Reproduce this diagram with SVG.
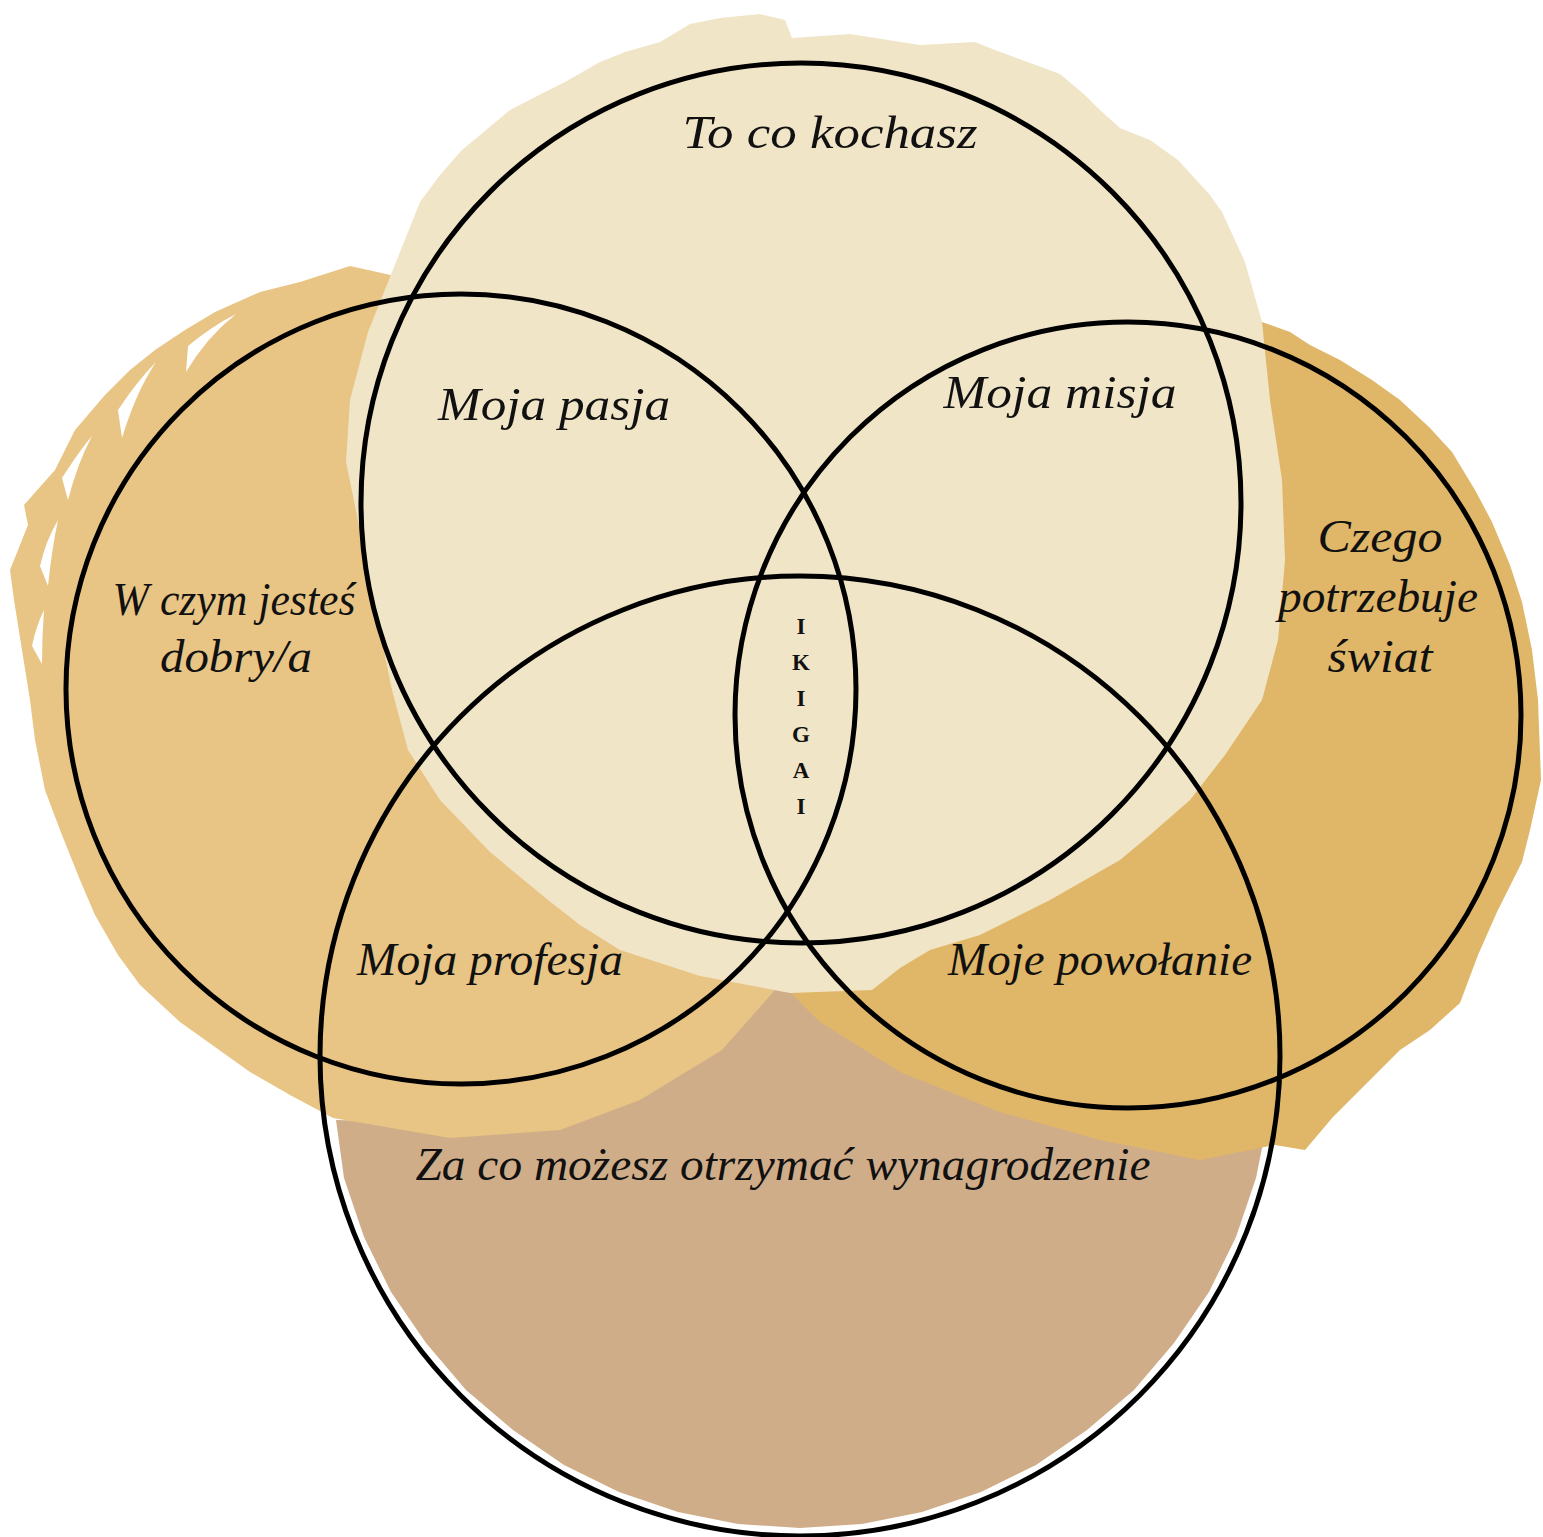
<svg xmlns="http://www.w3.org/2000/svg" width="1543" height="1537" viewBox="0 0 1543 1537">
<style>
.ring{fill:none;stroke:#000;stroke-width:5}
.lbl{font-family:"Liberation Serif","DejaVu Serif",serif;font-style:italic;font-size:46px;fill:#111;text-anchor:middle}
.ik{font-family:"Liberation Serif","DejaVu Serif",serif;font-weight:bold;font-size:23px;fill:#111;text-anchor:middle}
.w{fill:#fff}
</style>
<rect width="1543" height="1537" fill="#fff"/>
<g id="paint">
<path id="blob-bottom" fill="#D0AD89" d="M336,1120 L560,1125 L700,1060 L760,990 L800,985 L860,1040 L1000,1100 L1150,1130 L1262,1110 L1272,1056 L1268,1118 L1256,1178 L1236,1237 L1209,1292 L1174,1343 L1134,1390 L1087,1430 L1036,1465 L981,1492 L922,1512 L862,1524 L800,1528 L738,1524 L678,1512 L619,1492 L564,1465 L513,1430 L466,1390 L426,1343 L391,1292 L364,1237 L344,1178 Z"/>
<path id="blob-left" fill="#E8C485" d="M300,282 L350,266 L395,276 L430,284 L520,300 L600,360 L680,450 L740,560 L770,700 L780,850 L775,990 L722,1050 L640,1100 L560,1130 L450,1138 L333,1118 L290,1095 L250,1072 L180,1022 L140,985 L118,955 L95,915 L80,880 L60,830 L45,790 L35,740 L30,700 L22,650 L14,600 L10,570 L28,525 L24,505 L55,470 L75,430 L105,395 L130,370 L155,350 L185,330 L215,312 L260,292 Z"/>
<path id="blob-right" fill="#E0B768" d="M1248,318 L1262,322 L1290,332 L1310,345 L1340,360 L1372,380 L1400,400 L1430,428 L1452,452 L1475,490 L1492,522 L1510,565 L1522,602 L1532,650 L1538,700 L1541,780 L1530,830 L1522,862 L1497,912 L1478,955 L1460,1003 L1430,1030 L1400,1050 L1365,1085 L1333,1117 L1305,1150 L1275,1145 L1200,1160 L1100,1140 L1000,1112 L900,1072 L820,1022 L790,992 L860,900 L1000,800 L1100,600 L1200,400 Z"/>
<path id="blob-top" fill="#F1E5C8" d="M690,24 L720,18 L760,14 L785,20 L792,38 L850,34 L920,45 L975,42 L995,50 L1060,74 L1085,95 L1100,110 L1120,128 L1150,140 L1178,160 L1210,195 L1222,212 L1245,262 L1262,322 L1270,400 L1282,480 L1285,560 L1278,640 L1262,700 L1225,755 L1190,800 L1150,835 L1120,860 L1050,900 L980,935 L930,950 L900,968 L872,990 L790,993 L700,976 L620,950 L580,925 L548,900 L490,852 L440,800 L408,750 L392,690 L378,622 L362,540 L346,462 L350,400 L368,332 L392,272 L420,202 L440,175 L462,150 L510,110 L545,92 L565,82 L600,62 L625,52 L660,42 Z"/>
<path class="w" d="M62,478 Q80,450 92,436 Q78,462 68,500 Z"/>
<path class="w" d="M118,410 Q138,380 156,362 Q136,392 122,438 Z"/>
<path class="w" d="M188,346 Q212,326 236,314 Q206,338 186,372 Z"/>
<path class="w" d="M40,566 Q46,540 58,520 Q52,548 48,586 Z"/>
<path class="w" d="M32,646 Q36,626 44,610 Q42,636 42,664 Z"/>
<path class="w" d="M1244,1330 Q1250,1300 1258,1280 Q1256,1310 1250,1350 Z"/>
<path class="w" d="M1206,1412 Q1220,1390 1234,1372 Q1226,1396 1214,1422 Z"/>
<path class="w" d="M1502,944 Q1510,920 1522,900 Q1516,928 1510,962 Z"/>
<path class="w" d="M1420,1042 Q1432,1028 1446,1016 Q1438,1034 1430,1052 Z"/>
</g>
<g id="connectors">
<circle id="ring-love" class="ring" cx="801" cy="503" r="440"/>
<circle id="ring-good" class="ring" cx="461" cy="689" r="395"/>
<circle id="ring-world" class="ring" cx="1128" cy="715" r="393"/>
<circle id="ring-paid" class="ring" cx="800" cy="1056" r="480"/>
</g>
<g id="node-love"><text class="lbl" x="830" y="148" textLength="295" lengthAdjust="spacingAndGlyphs">To co kochasz</text></g>
<g id="node-pasja"><text class="lbl" x="554" y="420" textLength="232" lengthAdjust="spacingAndGlyphs">Moja pasja</text></g>
<g id="node-misja"><text class="lbl" x="1060" y="408" textLength="233" lengthAdjust="spacingAndGlyphs">Moja misja</text></g>
<g id="node-good">
<text class="lbl" x="234" y="615" textLength="243" lengthAdjust="spacingAndGlyphs">W czym jesteś</text>
<text class="lbl" x="236" y="672" textLength="152" lengthAdjust="spacingAndGlyphs">dobry/a</text>
</g>
<g id="node-world">
<text class="lbl" x="1380" y="552" textLength="125" lengthAdjust="spacingAndGlyphs">Czego</text>
<text class="lbl" x="1378" y="612" textLength="200" lengthAdjust="spacingAndGlyphs">potrzebuje</text>
<text class="lbl" x="1380" y="672" textLength="105" lengthAdjust="spacingAndGlyphs">świat</text>
</g>
<g id="node-profesja"><text class="lbl" x="490" y="975" textLength="266" lengthAdjust="spacingAndGlyphs">Moja profesja</text></g>
<g id="node-powolanie"><text class="lbl" x="1100" y="975" textLength="304" lengthAdjust="spacingAndGlyphs">Moje powołanie</text></g>
<g id="node-paid"><text class="lbl" x="783" y="1180" textLength="735" lengthAdjust="spacingAndGlyphs">Za co możesz otrzymać wynagrodzenie</text></g>
<g id="node-ikigai">
<text class="ik" x="801" y="634">I</text>
<text class="ik" x="801" y="670">K</text>
<text class="ik" x="801" y="706">I</text>
<text class="ik" x="801" y="742">G</text>
<text class="ik" x="801" y="778">A</text>
<text class="ik" x="801" y="814">I</text>
</g>
</svg>
